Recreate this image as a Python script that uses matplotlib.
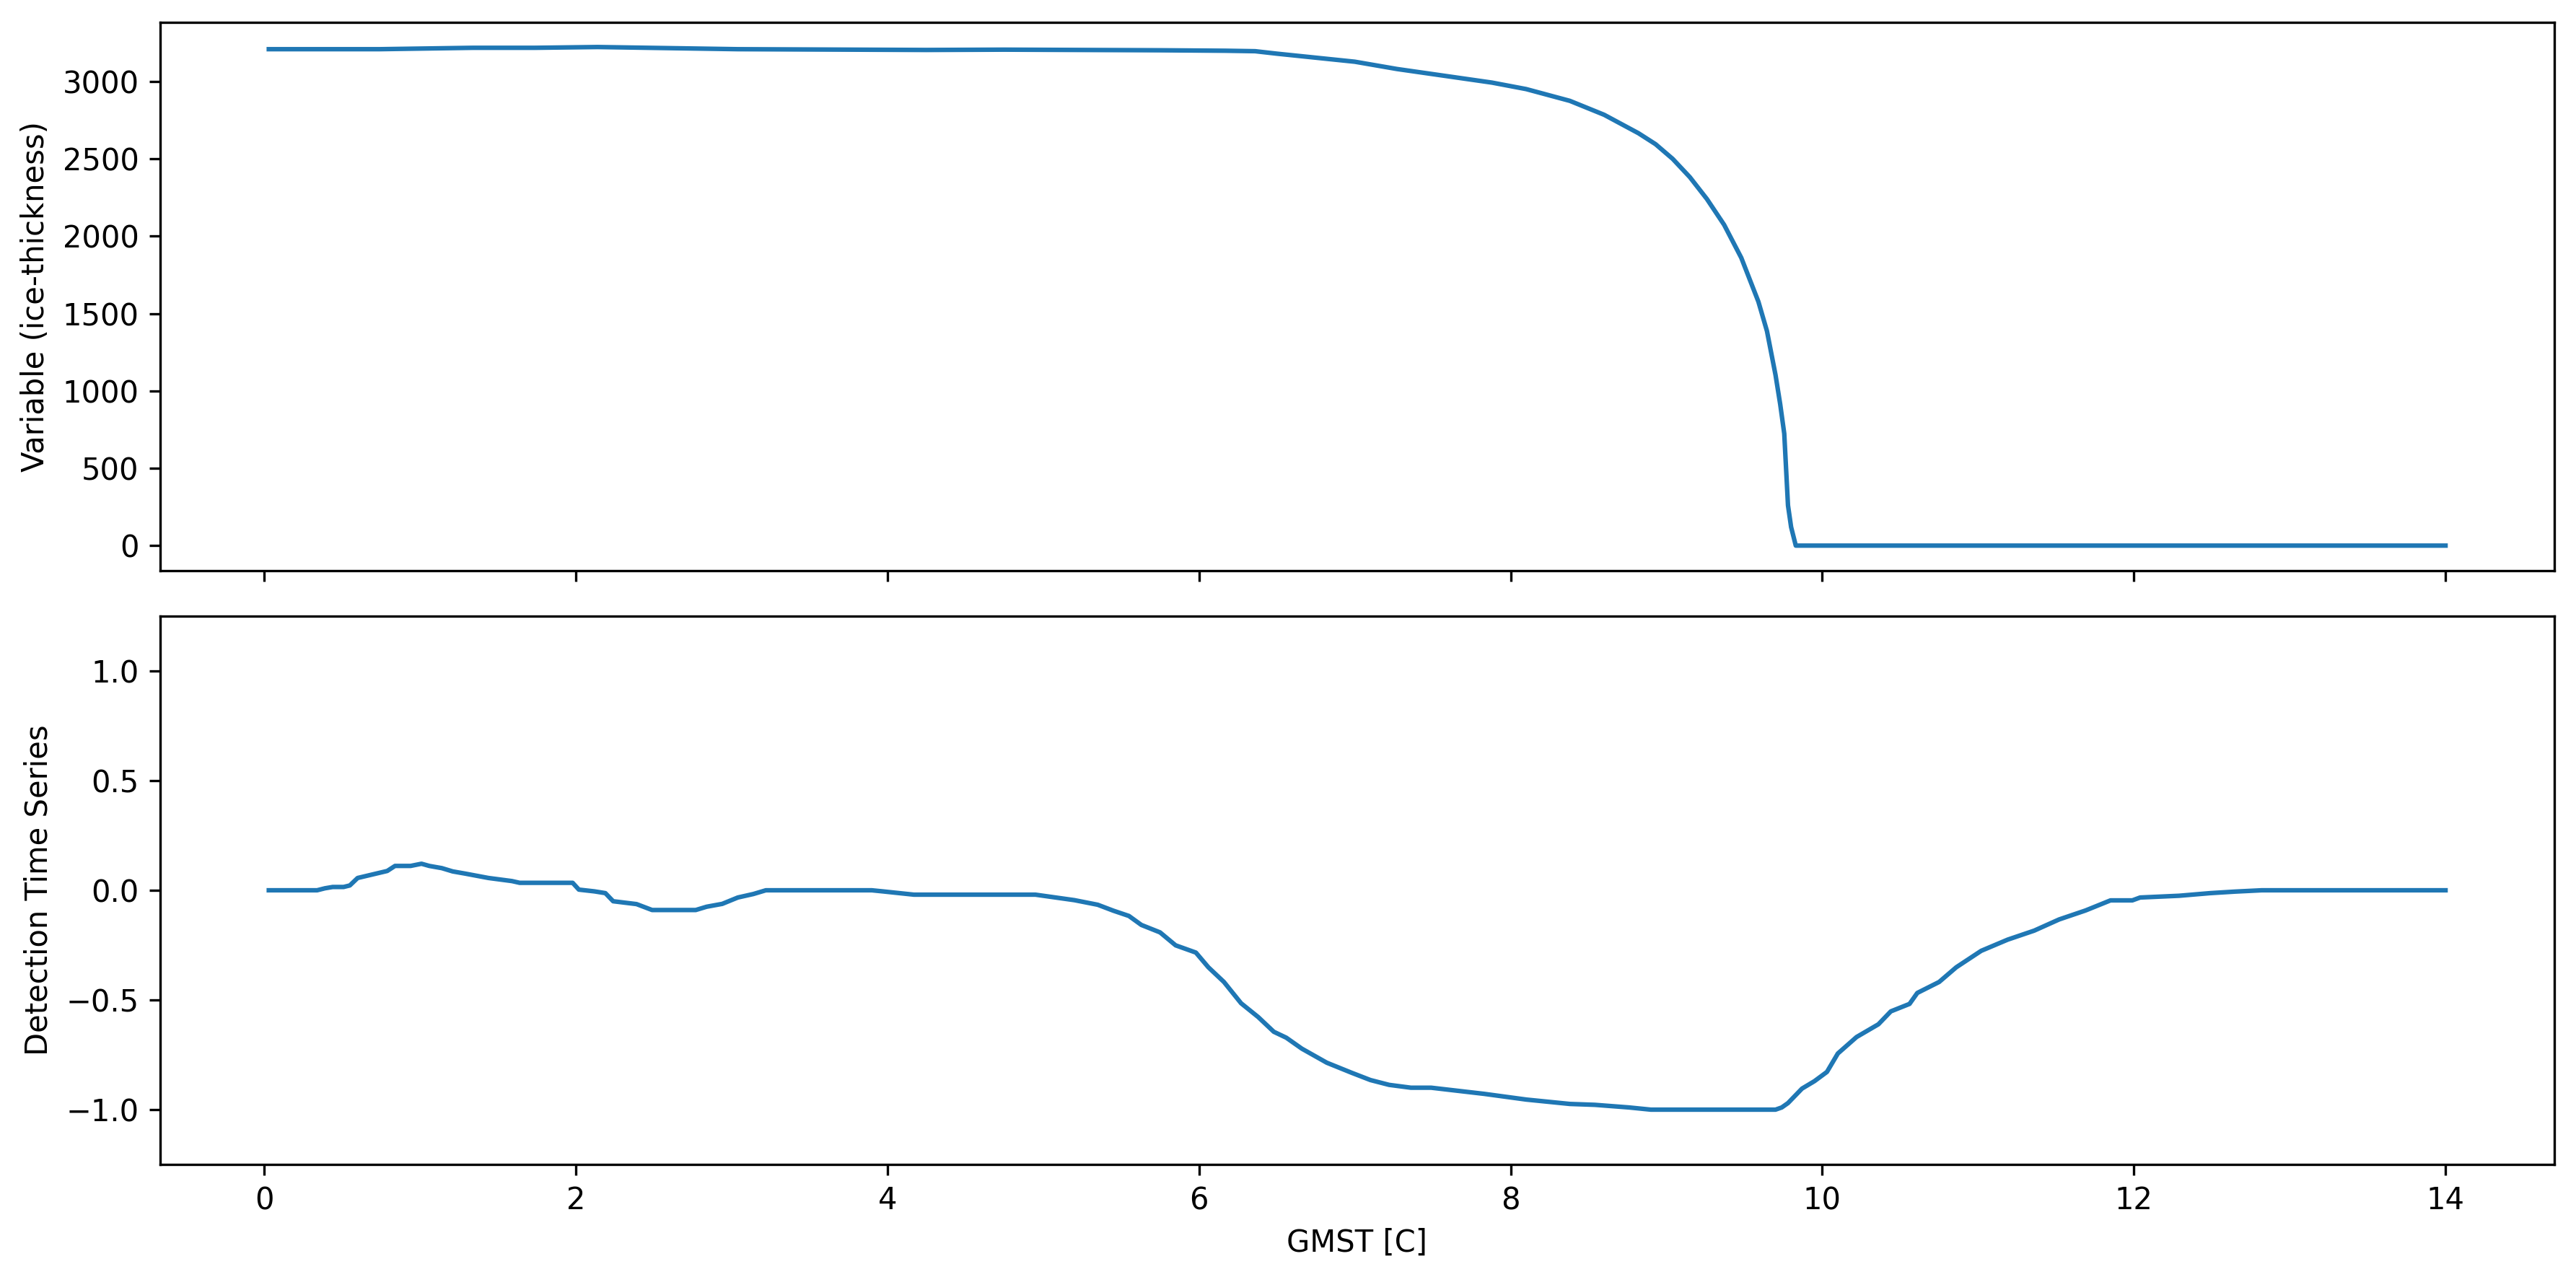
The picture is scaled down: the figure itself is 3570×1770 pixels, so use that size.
import numpy as np
import matplotlib.pyplot as plt

# ice thickness vs GMST
gmst_ice = [0.03, 0.74, 1.34, 1.74, 2.14, 3.04, 4.25, 4.75, 5.75, 6.17, 6.36,
            6.50, 7.00, 7.27, 7.88, 8.10, 8.38, 8.60, 8.82, 8.93, 9.04, 9.15,
            9.26, 9.37, 9.48, 9.59, 9.645, 9.70, 9.73, 9.756, 9.78, 9.80, 9.83,
            10.0, 11.0, 12.0, 13.0, 14.0]
ice_thickness = [3209, 3209, 3218, 3218, 3223, 3209, 3204, 3206, 3202, 3199, 3196,
                 3180, 3128, 3081, 2993, 2951, 2875, 2785, 2666, 2595, 2500, 2382,
                 2240, 2074, 1861, 1577, 1387, 1103, 914, 724, 260, 120, 0,
                 0, 0, 0, 0, 0]

# detection time series vs GMST
gmst_det = [0.03, 0.34, 0.39, 0.44, 0.51, 0.55, 0.60, 0.79, 0.84, 0.94, 1.01,
            1.06, 1.14, 1.21, 1.29, 1.44, 1.59, 1.64, 1.98, 2.02, 2.12, 2.19,
            2.24, 2.39, 2.49, 2.77, 2.84, 2.94, 3.04, 3.14, 3.22, 3.90, 3.97,
            4.17, 4.95, 5.05, 5.20, 5.35, 5.45, 5.55, 5.63, 5.75, 5.85, 5.98,
            6.06, 6.16, 6.27, 6.38, 6.48, 6.56, 6.66, 6.82, 6.98, 7.10, 7.22,
            7.36, 7.49, 7.83, 8.10, 8.38, 8.54, 8.76, 8.90, 9.70, 9.74, 9.78,
            9.87, 9.95, 10.03, 10.10, 10.22, 10.36, 10.44, 10.56, 10.61, 10.75,
            10.86, 11.02, 11.19, 11.36, 11.52, 11.69, 11.85, 11.99, 12.04,
            12.29, 12.49, 12.65, 12.82, 14.0]
detection = [0.0, 0.0, 0.009, 0.015, 0.015, 0.022, 0.056, 0.088, 0.111, 0.111, 0.121,
             0.111, 0.101, 0.086, 0.076, 0.056, 0.042, 0.034, 0.034, 0.003, -0.005, -0.013,
             -0.05, -0.063, -0.09, -0.09, -0.075, -0.062, -0.033, -0.017, 0.0, 0.0, -0.005,
             -0.02, -0.02, -0.03, -0.045, -0.066, -0.093, -0.117, -0.158, -0.192, -0.251, -0.284,
             -0.351, -0.418, -0.515, -0.578, -0.645, -0.672, -0.722, -0.786, -0.832, -0.865, -0.887,
             -0.900, -0.900, -0.928, -0.954, -0.974, -0.978, -0.990, -1.0, -1.0, -0.99, -0.970,
             -0.904, -0.870, -0.828, -0.744, -0.669, -0.611, -0.552, -0.518, -0.468, -0.418,
             -0.351, -0.276, -0.225, -0.184, -0.133, -0.092, -0.046, -0.046, -0.033,
             -0.025, -0.013, -0.006, 0.0, 0.0]

fig, (ax1, ax2) = plt.subplots(2, 1, sharex=True, figsize=(11.9, 5.9), dpi=300)
fig.subplots_adjust(left=0.0621, right=0.9916, top=0.9827, bottom=0.0881, hspace=0.083)

ax1.plot(gmst_ice, ice_thickness)
ax1.set_ylabel('Variable (ice-thickness)')

ax2.plot(gmst_det, detection)
ax2.set_ylim(-1.25, 1.25)
ax2.set_ylabel('Detection Time Series')
ax2.set_xlabel('GMST [C]')

fig.savefig('out.png', dpi=300)
